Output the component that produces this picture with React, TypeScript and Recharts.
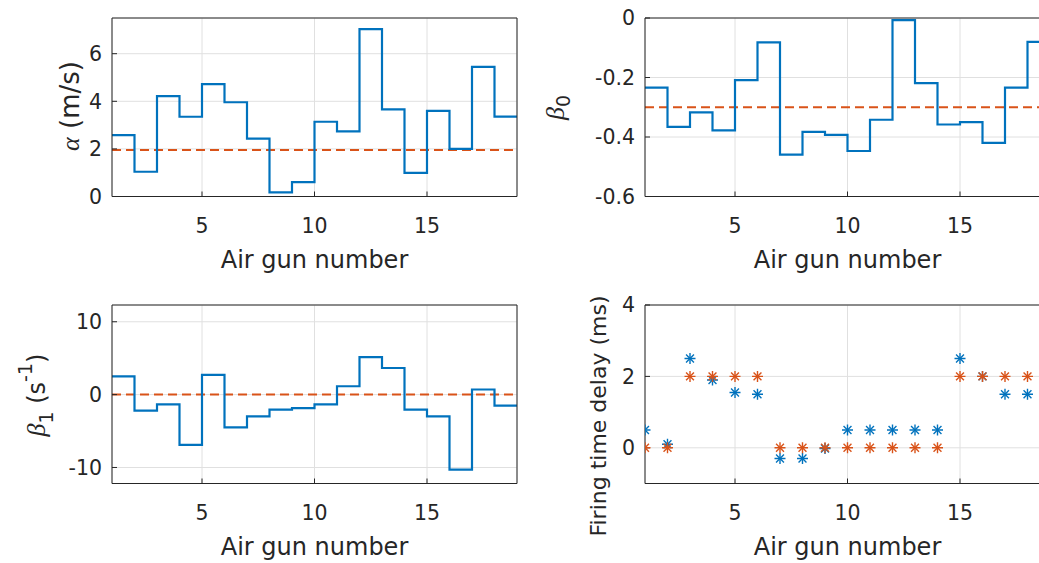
import React from 'react';
import {
  CartesianGrid,
  ComposedChart,
  Line,
  ReferenceLine,
  Scatter,
  XAxis,
  YAxis,
} from 'recharts';

const BLUE = '#0072BD';
const ORANGE = '#D95319';
const INK = '#262626';
const GRID = '#e0e0e0';
const FONT = '"DejaVu Sans", sans-serif';
const SERIF = '"Liberation Serif", serif';

// air gun numbers, plus the closing edge of the stairs
const gunNumbers = [1, 2, 3, 4, 5, 6, 7, 8, 9, 10, 11, 12, 13, 14, 15, 16, 17, 18];
const stairEnd = 19;
const xTicks = [5, 10, 15];

const alphaValues = [2.58, 1.04, 4.22, 3.35, 4.72, 3.96, 2.43, 0.17, 0.6, 3.14, 2.74, 7.03, 3.66, 0.99, 3.6, 2.0, 5.45, 3.36];
const alphaMean = 1.95;
const alphaTicks = [0, 2, 4, 6];

const beta0Values = [-0.234, -0.366, -0.317, -0.378, -0.209, -0.082, -0.459, -0.383, -0.393, -0.447, -0.342, -0.007, -0.219, -0.358, -0.35, -0.42, -0.234, -0.08];
const beta0Mean = -0.3;
const beta0Ticks = [-0.6, -0.4, -0.2, 0];

const beta1Values = [2.5, -2.2, -1.35, -6.9, 2.7, -4.5, -3.0, -2.05, -1.85, -1.35, 1.15, 5.15, 3.65, -2.05, -3.0, -10.3, 0.7, -1.5];
const beta1Mean = 0;
const beta1Ticks = [-10, 0, 10];

const delayEstimated = [0.5, 0.1, 2.5, 1.9, 1.55, 1.5, -0.3, -0.3, -0.02, 0.5, 0.5, 0.5, 0.5, 0.5, 2.5, 2, 1.5, 1.5];
const delayActual = [0, 0, 2, 2, 2, 2, 0, 0, 0, 0, 0, 0, 0, 0, 2, 2, 2, 2];
const delayTicks = [0, 2, 4];

// layout (page px)
const PW = 405;
const PH = 178.5;
const LEFT1 = 112;
const LEFT2 = 645;
const TOP1 = 18;
const TOP2 = 305;
const YW = 100;
const XH = 80;
const MT = 20;
const M = 4;
const EDGE = 1;

const stairs = (values: number[]) =>
  [...gunNumbers, stairEnd].map((x, i) => ({ x, v: values[Math.min(i, values.length - 1)] }));

const tickStyle = { fontSize: 20.5, fill: INK, fontFamily: FONT };

function Asterisk(props: any) {
  const { cx, cy, fill } = props;
  if (cx == null || cy == null) return null;
  const r = 5.5;
  const d = r * 0.72;
  return (
    <g stroke={fill} strokeWidth={1.4}>
      <line x1={cx - r} y1={cy} x2={cx + r} y2={cy} />
      <line x1={cx} y1={cy - r} x2={cx} y2={cy + r} />
      <line x1={cx - d} y1={cy - d} x2={cx + d} y2={cy + d} />
      <line x1={cx - d} y1={cy + d} x2={cx + d} y2={cy - d} />
    </g>
  );
}

function Panel({
  left,
  top,
  data,
  yDomain,
  yTicks,
  children,
}: {
  left: number;
  top: number;
  data?: any[];
  yDomain: [number, number];
  yTicks: number[];
  children: React.ReactNode;
}) {
  const W = YW + PW + EDGE + M;
  const H = MT + EDGE + PH + XH;
  return (
    <div style={{ position: 'absolute', left: left - YW, top: top - MT - EDGE }}>
      <ComposedChart width={W} height={H} data={data} margin={{ top: MT, right: M, left: 0, bottom: 0 }}>
        <CartesianGrid stroke={GRID} strokeWidth={1} />
        <XAxis
          dataKey="x"
          type="number"
          domain={[1, 19]}
          ticks={xTicks}
          allowDataOverflow
          height={XH}
          tick={tickStyle}
          tickSize={-5}
          tickMargin={27}
          axisLine={{ stroke: INK }}
          tickLine={{ stroke: INK }}
        />
        <XAxis
          xAxisId="top"
          orientation="top"
          type="number"
          domain={[1, 19]}
          ticks={xTicks}
          allowDataOverflow
          height={EDGE}
          tick={false}
          tickSize={-5}
          axisLine={{ stroke: INK }}
          tickLine={{ stroke: INK }}
        />
        <YAxis
          type="number"
          domain={yDomain}
          ticks={yTicks}
          allowDataOverflow
          width={YW}
          tick={tickStyle}
          tickSize={-5}
          tickMargin={15}
          axisLine={{ stroke: INK }}
          tickLine={{ stroke: INK }}
          interval={0}
        />
        <YAxis
          yAxisId="r"
          orientation="right"
          type="number"
          domain={yDomain}
          ticks={yTicks}
          allowDataOverflow
          width={EDGE}
          tick={false}
          tickSize={-5}
          axisLine={{ stroke: INK }}
          tickLine={{ stroke: INK }}
        />
        {children}
      </ComposedChart>
    </div>
  );
}

function StepPanel({ left, top, values, mean, yDomain, yTicks }: any) {
  return (
    <Panel left={left} top={top} data={stairs(values)} yDomain={yDomain} yTicks={yTicks}>
      <ReferenceLine y={mean} stroke={ORANGE} strokeWidth={2} strokeDasharray="9 5" />
      <Line
        type="stepAfter"
        dataKey="v"
        stroke={BLUE}
        strokeWidth={2.2}
        dot={false}
        activeDot={false}
        isAnimationActive={false}
      />
    </Panel>
  );
}

const estimatedRows = gunNumbers.map((x, i) => ({ x, y: delayEstimated[i] }));
const actualRows = gunNumbers.map((x, i) => ({ x, y: delayActual[i] }));

export default function App() {
  const cx1 = LEFT1 + PW / 2;
  const cx2 = LEFT2 + PW / 2;
  const labelStyle = { fontFamily: FONT, fill: INK } as const;
  return (
    <div
      style={{
        position: 'absolute',
        left: 0,
        top: 0,
        width: 1039,
        height: 563,
        overflow: 'hidden',
        background: '#fff',
      }}
    >
      <StepPanel left={LEFT1} top={TOP1} values={alphaValues} mean={alphaMean} yDomain={[0, 7.5]} yTicks={alphaTicks} />
      <StepPanel left={LEFT2} top={TOP1} values={beta0Values} mean={beta0Mean} yDomain={[-0.6, 0]} yTicks={beta0Ticks} />
      <StepPanel left={LEFT1} top={TOP2} values={beta1Values} mean={beta1Mean} yDomain={[-12.2, 12.3]} yTicks={beta1Ticks} />
      <Panel left={LEFT2} top={TOP2} yDomain={[-1, 4]} yTicks={delayTicks}>
        <Scatter data={estimatedRows} dataKey="y" fill={BLUE} shape={<Asterisk />} isAnimationActive={false} />
        <Scatter data={actualRows} dataKey="y" fill={ORANGE} shape={<Asterisk />} isAnimationActive={false} />
      </Panel>

      <svg
        width={1039}
        height={563}
        style={{ position: 'absolute', left: 0, top: 0, pointerEvents: 'none' }}
        xmlSpace="preserve"
      >
        <g {...labelStyle} fontSize={24} textAnchor="middle">
          <text x={cx1} y={TOP1 + PH + 71.5}>Air gun number</text>
          <text x={cx2} y={TOP1 + PH + 71.5}>Air gun number</text>
          <text x={cx1} y={TOP2 + PH + 71.5}>Air gun number</text>
          <text x={cx2} y={TOP2 + PH + 71.5}>Air gun number</text>

          <text transform={`translate(79,106) rotate(-90)`} fontSize={26}>
            <tspan fontFamily={SERIF} fontStyle="italic" fontSize={26}>α</tspan>
            <tspan> (m/s)</tspan>
          </text>

          <text transform={`translate(564,107.5) rotate(-90)`}>
            <tspan fontFamily={SERIF} fontStyle="italic" fontSize={26}>β</tspan>
            <tspan fontSize={19} dy={6}>0</tspan>
          </text>

          <text transform={`translate(45,395) rotate(-90)`}>
            <tspan fontFamily={SERIF} fontStyle="italic" fontSize={26}>β</tspan>
            <tspan fontSize={19} dy={8}>1</tspan>
            <tspan dy={-8}> (s</tspan>
            <tspan fontSize={19} dy={-13}>-1</tspan>
            <tspan dy={13}>)</tspan>
          </text>

          <text transform={`translate(606,416) rotate(-90)`} fontSize={22}>
            Firing time delay (ms)
          </text>
        </g>
      </svg>
    </div>
  );
}
